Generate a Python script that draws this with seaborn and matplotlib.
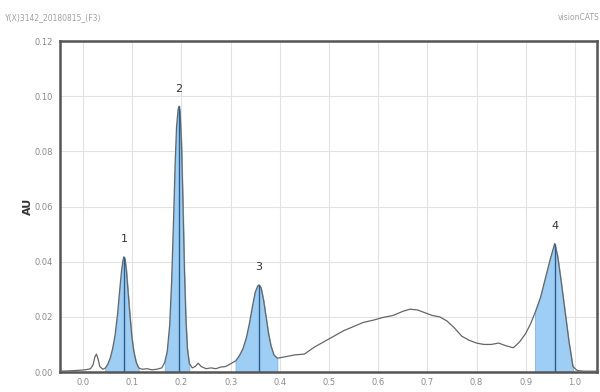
import numpy as np
import pandas as pd
import seaborn as sns
import matplotlib.pyplot as plt

# ---- data ----
rf = [-0.047, -0.03, -0.01, 0.005, 0.015, 0.020, 0.024, 0.027, 0.030, 0.034,
      0.040, 0.045, 0.050, 0.055, 0.060, 0.065, 0.070, 0.074, 0.078, 0.081,
      0.083, 0.085, 0.088, 0.091, 0.095, 0.099, 0.103, 0.108, 0.113, 0.120,
      0.130, 0.140, 0.150, 0.160, 0.166, 0.171, 0.176, 0.180, 0.184, 0.187,
      0.190, 0.193, 0.195, 0.197, 0.200, 0.203, 0.206, 0.209, 0.212, 0.216,
      0.222, 0.228, 0.234, 0.240, 0.250, 0.260, 0.270, 0.280, 0.290, 0.300,
      0.310, 0.318, 0.325, 0.332, 0.338, 0.344, 0.350, 0.355, 0.358, 0.362,
      0.367, 0.372, 0.377, 0.382, 0.388, 0.395, 0.41, 0.43, 0.45, 0.47,
      0.49, 0.51, 0.53, 0.55, 0.57, 0.59, 0.61, 0.63, 0.65, 0.665,
      0.68, 0.695, 0.71, 0.725, 0.74, 0.755, 0.77, 0.785, 0.80, 0.815,
      0.83, 0.845, 0.86, 0.875, 0.888, 0.90, 0.91, 0.919, 0.93, 0.94,
      0.95, 0.959, 0.965, 0.972, 0.980, 0.988, 0.996, 1.005, 1.02, 1.045]
au = [0.0003, 0.0004, 0.0006, 0.0008, 0.0012, 0.0025, 0.0055, 0.0065, 0.0050, 0.0020,
      0.0010, 0.0014, 0.0028, 0.0050, 0.0085, 0.0135, 0.0210, 0.0290, 0.0365, 0.0405,
      0.0418, 0.0410, 0.0370, 0.0300, 0.0210, 0.0130, 0.0075, 0.0035, 0.0015, 0.0010,
      0.0012, 0.0008, 0.0010, 0.0015, 0.0035, 0.0075, 0.0170, 0.0330, 0.0560, 0.0750,
      0.0890, 0.0950, 0.0964, 0.0945, 0.0830, 0.0610, 0.0370, 0.0190, 0.0085, 0.0030,
      0.0015, 0.0020, 0.0032, 0.0020, 0.0012, 0.0015, 0.0012, 0.0018, 0.0020, 0.0030,
      0.0040, 0.0060, 0.0085, 0.0125, 0.0175, 0.0235, 0.0290, 0.0312, 0.0316, 0.0305,
      0.0260, 0.0200, 0.0140, 0.0095, 0.0062, 0.0050, 0.0055, 0.0062, 0.0065, 0.0090,
      0.0110, 0.0130, 0.0150, 0.0165, 0.0180, 0.0188, 0.0198, 0.0205, 0.0220, 0.0228,
      0.0225, 0.0215, 0.0205, 0.0200, 0.0185, 0.0160, 0.0130, 0.0115, 0.0105, 0.0100,
      0.0100, 0.0105, 0.0095, 0.0088, 0.0110, 0.0140, 0.0175, 0.0215, 0.0270, 0.0340,
      0.0410, 0.0466, 0.0420, 0.0330, 0.0220, 0.0110, 0.0020, 0.0005, 0.0003, 0.0003]

peak_labels = ["1", "2", "3", "4"]
peak_rf = [0.083, 0.195, 0.358, 0.959]
peak_au = [0.0418, 0.0964, 0.0316, 0.0466]
fill_start = [0.045, 0.166, 0.310, 0.919]
fill_end = [0.113, 0.216, 0.395, 0.996]

x_ticks = [0.0, 0.1, 0.2, 0.3, 0.4, 0.5, 0.6, 0.7, 0.8, 0.9, 1.0]
y_ticks = [0.00, 0.02, 0.04, 0.06, 0.08, 0.10, 0.12]

df = pd.DataFrame({"Rf": rf, "AU": au})

sns.set_theme(style="white")
plt.rcParams['font.family'] = ['DejaVu Sans']

fig = plt.figure(figsize=(6, 3.92), dpi=100)
ax = fig.add_axes([0.1, 0.051, 0.895, 0.844])

x = np.array(rf)
y = np.array(au)
for s, e in zip(fill_start, fill_end):
    m = (x >= s) & (x <= e)
    ax.fill_between(x[m], 0, y[m], color="#9fcef4", edgecolor="#7ab8ea",
                    linewidth=0.6, zorder=2)

sns.lineplot(data=df, x="Rf", y="AU", ax=ax, color="#666666", linewidth=0.9,
             zorder=3, estimator=None, sort=False)

ax.vlines(peak_rf, 0, peak_au, color="#2a5d8c", linewidth=1.0, zorder=4)
for lab, px, py in zip(peak_labels, peak_rf, peak_au):
    ax.text(px, py + 0.0045, lab, ha="center", va="bottom", fontsize=8,
            color="#333333", zorder=5)

ax.set_xlim(-0.047, 1.045)
ax.set_ylim(0, 0.12)
ax.set_xticks(x_ticks)
ax.set_xticklabels([f"{t:.1f}" for t in x_ticks])
ax.set_yticks(y_ticks)
ax.set_yticklabels([f"{t:.2f}" for t in y_ticks])
ax.tick_params(axis="both", labelsize=6, colors="#8a8a8a", length=0)
ax.tick_params(axis="x", pad=4)
ax.tick_params(axis="y", pad=5)
ax.grid(True, color="#e2e2e2", linewidth=0.8)
ax.set_axisbelow(True)
for sp in ax.spines.values():
    sp.set_color("#555555")
    sp.set_linewidth(1.8)
ax.set_xlabel("")
ax.set_ylabel("AU", fontsize=8, fontweight="bold", color="#333333", labelpad=1)

fig.text(0.008, 0.955, "Y(X)3142_20180815_(F3)", fontsize=5.5, color="#a0a0a0",
         ha="left", va="center")
fig.text(0.999, 0.955, "visionCATS", fontsize=5.5, color="#a0a0a0",
         ha="right", va="center")

fig.savefig("out.png", dpi=100)
